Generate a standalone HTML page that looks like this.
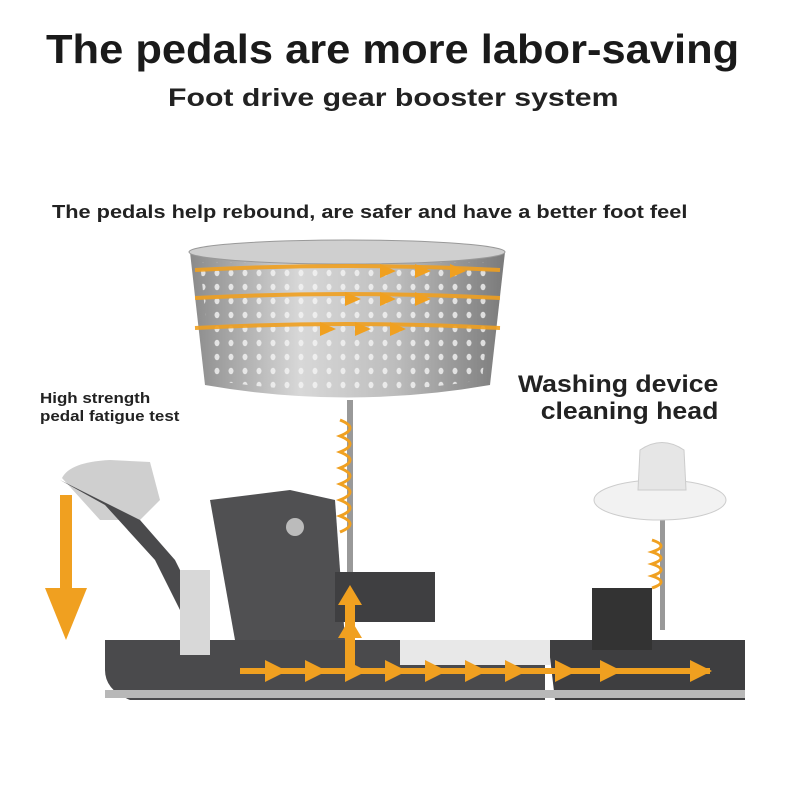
<!DOCTYPE html>
<html><head><meta charset="utf-8"><style>
html,body{margin:0;padding:0;background:#fff;}
body{width:800px;height:800px;position:relative;overflow:hidden;font-family:"Liberation Sans",sans-serif;}
.t{position:absolute;font-weight:bold;color:#1a1a1a;white-space:nowrap;transform-origin:0 0;}
</style></head><body>
<div class="t" style="left:46px;top:26px;font-size:41px;transform:scaleX(1.06);">The pedals are more labor-saving</div>
<div class="t" style="left:168px;top:84px;font-size:25px;color:#222;transform:scaleX(1.21);">Foot drive gear booster system</div>
<div class="t" style="left:52px;top:201px;font-size:18.5px;color:#222;transform:scaleX(1.175);">The pedals help rebound, are safer and have a better foot feel</div>
<div class="t" style="left:40px;top:390px;font-size:15px;line-height:18px;color:#222;transform:scaleX(1.13);">High strength<br>pedal fatigue test</div>
<div class="t" style="left:518px;top:371px;font-size:24px;line-height:27px;color:#222;text-align:right;transform:scaleX(1.11);">Washing device<br>&nbsp;&nbsp;cleaning head</div>
<svg width="800" height="800" style="position:absolute;left:0;top:0" xmlns="http://www.w3.org/2000/svg">
<defs>
<linearGradient id="m" x1="0" x2="1"><stop offset="0" stop-color="#8a8a8a"/><stop offset=".35" stop-color="#d8d8d8"/><stop offset=".65" stop-color="#bdbdbd"/><stop offset="1" stop-color="#7a7a7a"/></linearGradient>
<pattern id="h" width="14" height="14" patternUnits="userSpaceOnUse"><ellipse cx="7" cy="7" rx="2.5" ry="3.2" fill="#f4f4f4"/></pattern>
</defs>
<path d="M190 252 L505 252 L490 385 Q347 410 205 385 Z" fill="url(#m)"/>
<path d="M200 262 L495 262 L482 380 Q347 402 212 380 Z" fill="url(#h)" opacity=".8"/>
<ellipse cx="347" cy="252" rx="158" ry="12" fill="#cfcfcf" stroke="#999"/>
<g stroke="#f0a020" stroke-width="4" fill="none" opacity=".9">
<path d="M195 270 Q347 262 500 270"/><path d="M195 298 Q347 290 500 298"/><path d="M195 328 Q347 320 500 328"/>
</g>
<g fill="#f0a020"><path d="M380 264 l16 7 -16 7z"/><path d="M415 264 l16 7 -16 7z"/><path d="M450 264 l16 7 -16 7z"/>
<path d="M345 292 l16 7 -16 7z"/><path d="M380 292 l16 7 -16 7z"/><path d="M415 292 l16 7 -16 7z"/>
<path d="M320 322 l16 7 -16 7z"/><path d="M355 322 l16 7 -16 7z"/><path d="M390 322 l16 7 -16 7z"/></g>
<rect x="347" y="400" width="6" height="190" fill="#999"/>
<path d="M340 420 q20 8 0 16 q20 8 0 16 q20 8 0 16 q20 8 0 16 q20 8 0 16 q20 8 0 16 q20 8 0 16" stroke="#f0a020" stroke-width="3" fill="none"/>
<path d="M105 640 L545 640 L545 700 L130 700 Q105 690 105 670Z" fill="#4a4a4c"/>
<path d="M548 640 L745 640 L745 700 L555 700Z" fill="#3e3e40"/>
<rect x="105" y="690" width="640" height="8" fill="#b8b8b8"/>
<rect x="400" y="640" width="150" height="25" fill="#e8e8e8"/>
<path d="M62 478 Q70 462 110 460 L150 462 L160 500 L140 520 L100 520 Z" fill="#cfcfcf"/>
<path d="M60 480 L140 520 L175 560 L200 610 L180 610 L155 560 L105 505 Z" fill="#4a4a4c"/>
<rect x="180" y="570" width="30" height="85" fill="#d8d8d8"/>
<path d="M210 500 L290 490 L335 500 L345 640 L235 640 Z" fill="#505052"/>
<circle cx="295" cy="527" r="9" fill="#bbb"/>
<rect x="335" y="572" width="100" height="50" fill="#3f3f41"/>
<rect x="592" y="588" width="60" height="62" fill="#333"/>
<rect x="660" y="520" width="5" height="110" fill="#999"/>
<ellipse cx="660" cy="500" rx="66" ry="20" fill="#f2f2f2" stroke="#ccc"/>
<path d="M640 450 Q662 435 684 450 L686 490 L638 490Z" fill="#e6e6e6" stroke="#ccc"/>
<path d="M652 540 q18 6 0 12 q18 6 0 12 q18 6 0 12 q18 6 0 12" stroke="#f0a020" stroke-width="3" fill="none"/>
<g fill="#f0a020">
<rect x="60" y="495" width="12" height="95"/><path d="M45 588 L87 588 L66 640Z"/>
<rect x="345" y="600" width="10" height="70"/><path d="M338 605 l12 -20 12 20z"/><path d="M338 638 l12 -20 12 20z"/>
<rect x="240" y="668" width="470" height="6"/>
<path d="M265 660 l22 11 -22 11z"/><path d="M305 660 l22 11 -22 11z"/><path d="M345 660 l22 11 -22 11z"/><path d="M385 660 l22 11 -22 11z"/><path d="M425 660 l22 11 -22 11z"/><path d="M465 660 l22 11 -22 11z"/><path d="M505 660 l22 11 -22 11z"/><path d="M555 660 l22 11 -22 11z"/><path d="M600 660 l22 11 -22 11z"/><path d="M690 660 l22 11 -22 11z"/>
</g>
</svg>
</body></html>
